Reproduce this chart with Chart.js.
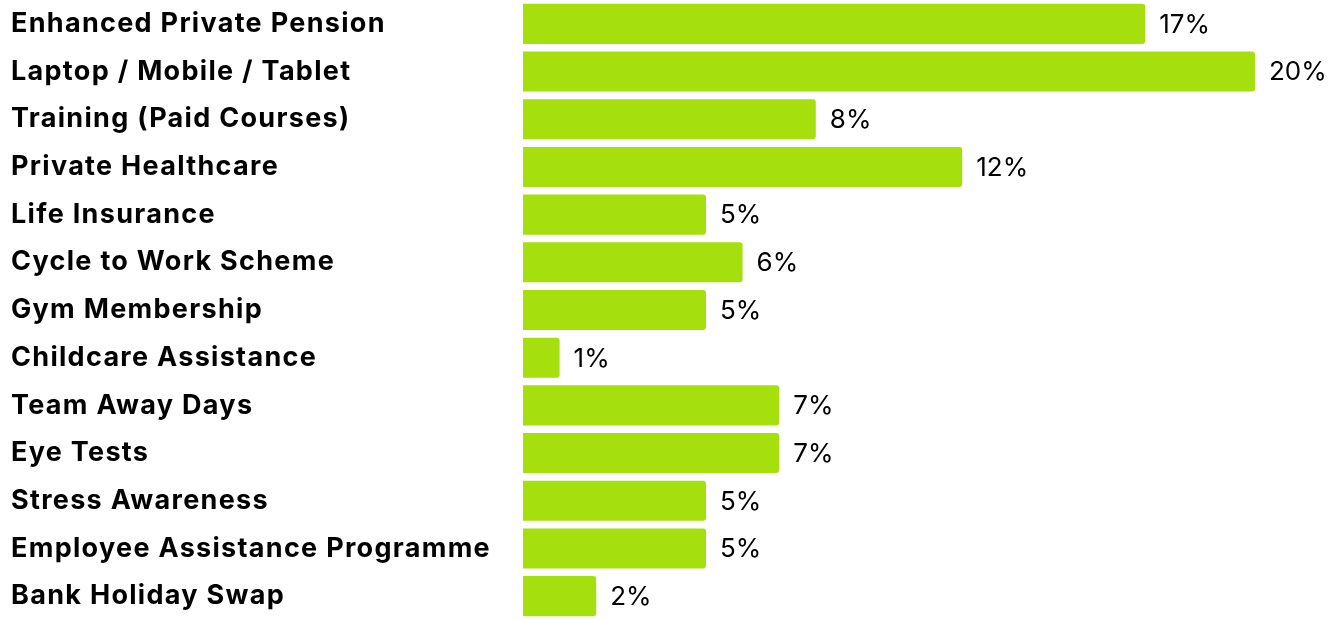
<!DOCTYPE html>
<html>
<head>
<meta charset="utf-8">
<title>Benefits</title>
<script src="https://cdn.jsdelivr.net/npm/chart.js@4.4.0/dist/chart.umd.min.js"></script>
<style>
    html, body { margin: 0; padding: 0; background: #ffffff; }
    #wrap { width: 1339px; height: 620px; position: relative; }
</style>
</head>
<body>
<div id="wrap"><canvas id="benefitsChart"></canvas></div>
<script>
'use strict';

var benefitNames = [
    'Enhanced Private Pension',
    'Laptop / Mobile / Tablet',
    'Training (Paid Courses)',
    'Private Healthcare',
    'Life Insurance',
    'Cycle to Work Scheme',
    'Gym Membership',
    'Childcare Assistance',
    'Team Away Days',
    'Eye Tests',
    'Stress Awareness',
    'Employee Assistance Programme',
    'Bank Holiday Swap'
];

var benefitShares = [17, 20, 8, 12, 5, 6, 5, 1, 7, 7, 5, 5, 2];

var axisMin = 0;
var axisMax = 20;

// a bit of tracking so the bold names come out wider
var labelSpacing = {
    id: 'labelSpacing',
    beforeDraw: function(chart) {
        chart.ctx.save();
        chart.ctx.letterSpacing = '1.3px';
    },
    afterDraw: function(chart) {
        chart.ctx.restore();
    }
};

// writes the percentage just past the end of each bar
var valueLabels = {
    id: 'valueLabels',
    afterDatasetsDraw: function(chart) {
        var ctx = chart.ctx;
        var meta = chart.getDatasetMeta(0);
        ctx.save();
        ctx.letterSpacing = '0px';
        ctx.font = '400 26px Inter';
        ctx.fillStyle = '#000000';
        ctx.textAlign = 'left';
        ctx.textBaseline = 'middle';
        for (var i = 0; i < meta.data.length; i++) {
            var bar = meta.data[i];
            ctx.fillText(benefitShares[i] + '%', bar.x + 14, bar.y + 1);
        }
        ctx.restore();
    }
};

var ctx = document.getElementById('benefitsChart').getContext('2d');

var chart = new Chart(ctx, {
    type: 'bar',
    data: {
        labels: benefitNames,
        datasets: [{
            data: benefitShares,
            backgroundColor: '#a5e00e',
            borderRadius: 3,
            borderSkipped: 'start',
            barPercentage: 0.84,
            categoryPercentage: 1
        }]
    },
    options: {
        indexAxis: 'y',
        responsive: true,
        maintainAspectRatio: false,
        animation: false,
        layout: {
            padding: { left: 11, right: 84, top: 0, bottom: 0 }
        },
        plugins: {
            legend: { display: false },
            tooltip: { enabled: false }
        },
        scales: {
            x: {
                display: false,
                min: axisMin,
                max: axisMax
            },
            y: {
                grid: { display: false },
                border: { display: false },
                afterFit: function(scale) {
                    scale.width = 512;
                    scale.paddingTop = 0;
                    scale.paddingBottom = 0;
                },
                ticks: {
                    crossAlign: 'far',
                    color: '#000000',
                    padding: 0,
                    font: { family: 'Inter', size: 27, weight: '700' }
                }
            }
        }
    },
    plugins: [labelSpacing, valueLabels]
});
</script>
</body>
</html>
